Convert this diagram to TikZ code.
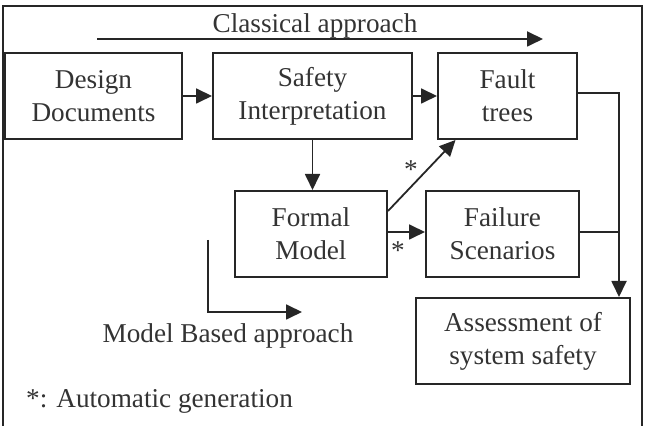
\documentclass[tikz,border=0pt]{standalone}
\usepackage{fontspec}
\setmainfont{Liberation Serif}
\usetikzlibrary{positioning,arrows.meta,calc}
\tikzset{
  txt/.style={text=black!80, font=\fontsize{13.6}{16.5}\selectfont},
  block/.style={txt, draw=black!85, line width=1pt, align=center, inner sep=0pt,
    minimum height=43pt},
  link/.style={draw=black!85, line width=0.9pt},
  flow/.style={link, -{Triangle[length=8pt,width=7.5pt]}}
}

\begin{document}
\begin{tikzpicture}[x=0.5pt,y=-0.5pt]
  \useasboundingbox (0,0) rectangle (647,426);
  \draw[black!85, line width=1pt] (3,6) rectangle (642,440);
  \node[block, minimum width=88.5pt] (design) at (93.5,96) {Design\\Documents};
  \node[block, minimum width=99.5pt] (safety) at (312.5,96) {Safety\\Interpretation};
  \node[block, minimum width=69.5pt] (fault) at (507.5,96) {Fault\\trees};
  \node[block, minimum width=76pt] (formal) at (311,234) {Formal\\Model};
  \node[block, minimum width=76.5pt] (failure) at (502.5,234) {Failure\\Scenarios};
  \node[block, minimum width=107pt] (assess) at (523,341) {Assessment of\\system safety};
  \coordinate (drop) at ([xshift=-6pt]assess.north east);
  \coordinate (cl-start) at (97,39);
  \coordinate (cl-end) at (543,39);
  \coordinate (mb-start) at (208,240);
  \coordinate (mb-end) at (302,312);
  \node[txt, anchor=base] (classical) at (315,33) {Classical approach};
  \node[txt, anchor=base] (modelbased) at (228,343) {Model Based approach};
  \node[txt, anchor=base] (legend) at (159.5,408) {*: Automatic generation};
  \node[txt, anchor=base] (star-ft) at (411,179) {*};
  \node[txt, anchor=base] (star-fs) at (398,260) {*};
  \draw[flow] (cl-start) -- (cl-end);
  \draw[flow] (mb-start) |- (mb-end);
  \draw[flow] (design) -- (safety);
  \draw[flow] (safety) -- (fault);
  \draw[flow] (safety.south) -- (safety.south |- formal.north);
  \draw[flow] ([yshift=1pt]formal.east) -- ([yshift=1pt]failure.west);
  \draw[flow] ([yshift=11.5pt]formal.east) -- ([xshift=-26pt]fault.south);
  \draw[flow] ([yshift=1.5pt]fault.east) -| (drop);
  \draw[link] ([yshift=1pt]failure.east) -- ([yshift=1pt]failure.east -| drop);
\end{tikzpicture}
\end{document}
